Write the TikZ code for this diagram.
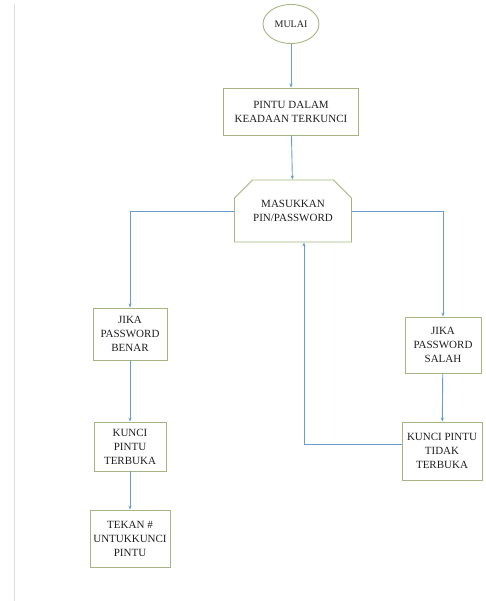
\documentclass[tikz,border=0pt]{standalone}
\usepackage{fontspec}
\setmainfont{Liberation Serif}
\newfontfamily\flowfont{Liberation Serif}
\usetikzlibrary{shapes.geometric,shapes.misc,arrows.meta}
\definecolor{boxc}{RGB}{165,180,130}
\definecolor{linec}{RGB}{104,158,206}
\definecolor{txtc}{RGB}{30,30,30}
\tikzset{
  flowbox/.style={draw=boxc, line width=0.9pt, rectangle, align=center, inner sep=1pt,
    font=\flowfont\fontsize{11}{14}\selectfont, text=txtc},
  startnode/.style={draw=boxc, line width=0.9pt, ellipse, align=center, inner sep=1pt,
    font=\flowfont\fontsize{10}{12}\selectfont, text=txtc, minimum width=56pt, minimum height=39pt},
  inputbox/.style={draw=boxc, line width=0.9pt, chamfered rectangle,
    chamfered rectangle corners={north west,north east},
    chamfered rectangle xsep=8pt, chamfered rectangle ysep=10pt,
    align=center, inner sep=1pt, font=\flowfont\fontsize{11}{14}\selectfont, text=txtc},
  conn/.style={draw=linec, line width=0.9pt, -{Stealth[length=4pt,width=3.2pt]}},
}
\begin{document}
\begin{tikzpicture}[x=1pt,y=-1pt]
\useasboundingbox (0,0) rectangle (485,601);
\draw[black!12, line width=1.3pt] (14.5,4) -- (14.5,601);

\node[startnode] (mulai) at (291,24) {MULAI};
\node[flowbox, minimum width=135pt, minimum height=47pt] (pintu) at (291,111.5)
  {PINTU DALAM\\KEADAAN TERKUNCI};
\node[inputbox, minimum width=117pt, minimum height=62pt] (masuk) at (293,211)
  {MASUKKAN\\PIN/PASSWORD};
\node[flowbox, minimum width=74pt, minimum height=52pt] (benar) at (130,334)
  {JIKA\\PASSWORD\\BENAR};
\node[flowbox, minimum width=72pt, minimum height=49pt] (buka) at (130,446.5)
  {KUNCI\\PINTU\\TERBUKA};
\node[flowbox, minimum width=80pt, minimum height=57pt] (tekan) at (130,538.5)
  {TEKAN \#\\UNTUKKUNCI\\PINTU};
\node[flowbox, minimum width=76pt, minimum height=56pt] (salah) at (443,345)
  {JIKA\\PASSWORD\\SALAH};
\node[flowbox, minimum width=80pt, minimum height=58pt] (tidak) at (442,451)
  {KUNCI PINTU\\TIDAK\\TERBUKA};

\draw[conn] (mulai) -- (pintu);
\draw[conn] (pintu) -- (masuk);
\draw[conn] (masuk.west) -| (benar.north);
\draw[conn] (benar) -- (buka);
\draw[conn] (buka) -- (tekan);
\draw[conn] (masuk.east) -| (salah.north);
\draw[conn] (salah) -- (tidak);
\draw[conn] ([yshift=7pt]tidak.west) -| ([xshift=11pt]masuk.south);
\end{tikzpicture}
\end{document}
